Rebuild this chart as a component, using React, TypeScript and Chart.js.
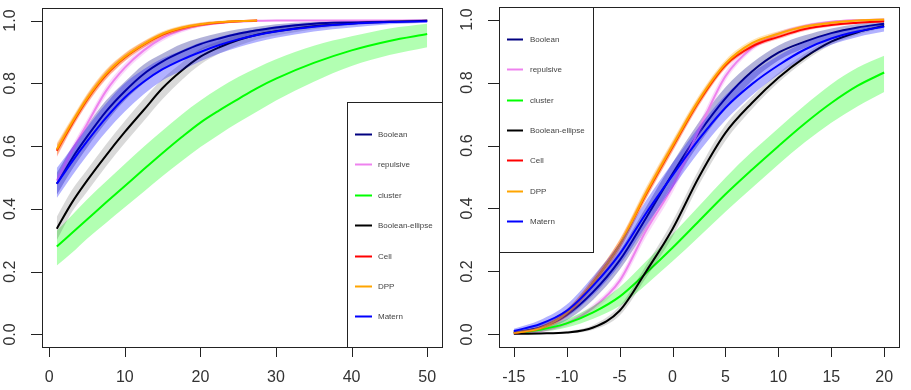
import React, { useEffect, useRef } from "react";
import { Chart, registerables } from "chart.js";
Chart.register(...registerables);

const seriesNames = ["Boolean", "repulsive", "cluster", "Boolean-ellipse", "Cell", "DPP", "Matern"];
const seriesColors = ["#000080", "#EE82EE", "#00FF00", "#000000", "#FF0000", "#FFA500", "#0000FF"];
const bandColors = [
  "rgba(0,0,128,0.3)",
  "rgba(238,130,238,0.3)",
  "rgba(0,255,0,0.3)",
  "rgba(0,0,0,0.15)",
  "rgba(255,0,0,0.3)",
  "rgba(255,165,0,0.3)",
  "rgba(0,0,255,0.3)",
];

const leftXTicks = [0, 10, 20, 30, 40, 50];
const rightXTicks = [-15, -10, -5, 0, 5, 10, 15, 20];
const yTicks = [0, 0.2, 0.4, 0.6, 0.8, 1.0];

// ---------- left panel ----------
const leftX = [1, 3, 5, 7.5, 10, 12.5, 15, 17.5, 20, 22.5, 25, 27.5, 30, 35, 40, 45, 50];

const leftBoolean = [0.48, 0.56, 0.63, 0.71, 0.775, 0.83, 0.87, 0.9, 0.925, 0.943, 0.958, 0.969, 0.978, 0.99, 0.995, 0.998, 1.0];
const leftBooleanLo = [0.445, 0.525, 0.595, 0.675, 0.745, 0.8, 0.845, 0.875, 0.905, 0.925, 0.94, 0.955, 0.965, 0.98, 0.99, 0.995, 0.998];
const leftBooleanHi = [0.515, 0.595, 0.665, 0.745, 0.805, 0.86, 0.895, 0.925, 0.945, 0.96, 0.972, 0.98, 0.988, 0.996, 0.999, 1.0, 1.0];

const leftRepulsive = [0.49, 0.585, 0.67, 0.775, 0.85, 0.905, 0.945, 0.97, 0.985, 0.992, 0.997, 0.999, 1.0, 1.0, 1.0, 1.0, 1.0];
const leftRepulsiveLo = [0.475, 0.57, 0.655, 0.76, 0.837, 0.893, 0.935, 0.962, 0.979, 0.988, 0.994, 0.997, 0.999, 1.0, 1.0, 1.0, 1.0];
const leftRepulsiveHi = [0.505, 0.6, 0.685, 0.79, 0.863, 0.917, 0.955, 0.978, 0.991, 0.996, 1.0, 1.0, 1.0, 1.0, 1.0, 1.0, 1.0];

const leftCluster = [0.28, 0.323, 0.366, 0.42, 0.473, 0.526, 0.578, 0.628, 0.675, 0.714, 0.75, 0.785, 0.815, 0.865, 0.905, 0.935, 0.957];
const leftClusterLo = [0.22, 0.26, 0.305, 0.355, 0.405, 0.455, 0.505, 0.552, 0.597, 0.637, 0.675, 0.71, 0.745, 0.805, 0.855, 0.89, 0.915];
const leftClusterHi = [0.33, 0.38, 0.43, 0.487, 0.543, 0.598, 0.65, 0.7, 0.745, 0.785, 0.82, 0.85, 0.877, 0.92, 0.95, 0.975, 0.99];

const leftEllipse = [0.337, 0.42, 0.49, 0.57, 0.645, 0.715, 0.785, 0.84, 0.885, 0.915, 0.938, 0.955, 0.966, 0.982, 0.991, 0.996, 0.999];
const leftEllipseLo = [0.3, 0.39, 0.455, 0.535, 0.61, 0.68, 0.75, 0.81, 0.86, 0.895, 0.92, 0.94, 0.952, 0.972, 0.985, 0.993, 0.997];
const leftEllipseHi = [0.375, 0.46, 0.525, 0.605, 0.68, 0.75, 0.815, 0.865, 0.91, 0.935, 0.955, 0.968, 0.978, 0.99, 0.996, 1.0, 1.0];

const leftCell = [0.585, 0.67, 0.748, 0.826, 0.882, 0.923, 0.955, 0.975, 0.987, 0.994, 0.998, 1.0, null, null, null, null, null];
const leftCellLo = [0.565, 0.655, 0.733, 0.812, 0.87, 0.913, 0.947, 0.968, 0.981, 0.99, 0.995, 0.998, null, null, null, null, null];
const leftCellHi = [0.605, 0.685, 0.763, 0.84, 0.894, 0.933, 0.963, 0.982, 0.993, 0.998, 1.0, 1.0, null, null, null, null, null];

const leftDPP = [0.59, 0.675, 0.752, 0.83, 0.885, 0.925, 0.958, 0.977, 0.988, 0.995, 0.998, 1.0, null, null, null, null, null];
const leftDPPLo = [0.57, 0.66, 0.737, 0.816, 0.873, 0.915, 0.95, 0.97, 0.982, 0.99, 0.995, 0.998, null, null, null, null, null];
const leftDPPHi = [0.61, 0.69, 0.767, 0.844, 0.897, 0.935, 0.966, 0.984, 0.994, 0.999, 1.0, 1.0, null, null, null, null, null];

const leftMatern = [0.48, 0.55, 0.615, 0.69, 0.755, 0.805, 0.845, 0.875, 0.9, 0.922, 0.94, 0.954, 0.965, 0.98, 0.99, 0.995, 0.998];
const leftMaternLo = [0.435, 0.505, 0.57, 0.645, 0.71, 0.765, 0.81, 0.84, 0.87, 0.895, 0.915, 0.932, 0.945, 0.965, 0.978, 0.988, 0.993];
const leftMaternHi = [0.53, 0.595, 0.66, 0.735, 0.8, 0.845, 0.88, 0.905, 0.93, 0.948, 0.962, 0.972, 0.982, 0.993, 0.998, 1.0, 1.0];

// ---------- right panel ----------
const rightX = [-15, -12.5, -10, -7.5, -5, -2.5, 0, 2.5, 5, 7.5, 10, 12.5, 15, 17.5, 20];

const rightBoolean = [0.006, 0.022, 0.062, 0.135, 0.235, 0.37, 0.51, 0.64, 0.75, 0.835, 0.895, 0.93, 0.957, 0.975, 0.987];
const rightBooleanLo = [0.002, 0.012, 0.045, 0.11, 0.205, 0.335, 0.475, 0.605, 0.715, 0.805, 0.87, 0.91, 0.94, 0.962, 0.977];
const rightBooleanHi = [0.012, 0.032, 0.08, 0.16, 0.265, 0.405, 0.545, 0.675, 0.785, 0.862, 0.918, 0.95, 0.972, 0.986, 0.995];

const rightRepulsive = [0.003, 0.01, 0.035, 0.085, 0.17, 0.33, 0.47, 0.65, 0.82, 0.91, 0.955, 0.98, 0.993, 0.998, 1.0];
const rightRepulsiveLo = [0.001, 0.006, 0.027, 0.074, 0.155, 0.31, 0.45, 0.63, 0.805, 0.9, 0.948, 0.975, 0.99, 0.996, 0.999];
const rightRepulsiveHi = [0.006, 0.015, 0.043, 0.096, 0.185, 0.35, 0.49, 0.67, 0.835, 0.92, 0.962, 0.985, 0.996, 1.0, 1.0];

const rightCluster = [0.005, 0.015, 0.035, 0.07, 0.12, 0.195, 0.275, 0.36, 0.445, 0.523, 0.598, 0.67, 0.735, 0.79, 0.832];
const rightClusterLo = [0.002, 0.008, 0.022, 0.05, 0.09, 0.158, 0.232, 0.31, 0.39, 0.465, 0.54, 0.61, 0.672, 0.725, 0.77];
const rightClusterHi = [0.009, 0.022, 0.048, 0.09, 0.15, 0.232, 0.318, 0.408, 0.498, 0.58, 0.655, 0.728, 0.795, 0.848, 0.885];

const rightEllipse = [0.002, 0.003, 0.006, 0.022, 0.075, 0.2, 0.335, 0.5, 0.64, 0.735, 0.815, 0.88, 0.93, 0.96, 0.98];
const rightEllipseLo = [0.001, 0.001, 0.003, 0.015, 0.06, 0.18, 0.31, 0.475, 0.615, 0.715, 0.8, 0.868, 0.92, 0.952, 0.975];
const rightEllipseHi = [0.003, 0.005, 0.01, 0.03, 0.09, 0.22, 0.36, 0.525, 0.665, 0.755, 0.83, 0.892, 0.94, 0.968, 0.985];

const rightCell = [0.005, 0.02, 0.068, 0.165, 0.285, 0.445, 0.595, 0.74, 0.855, 0.915, 0.945, 0.97, 0.983, 0.99, 0.995];
const rightCellLo = [0.003, 0.015, 0.058, 0.152, 0.27, 0.43, 0.58, 0.727, 0.845, 0.907, 0.938, 0.964, 0.978, 0.986, 0.992];
const rightCellHi = [0.008, 0.026, 0.078, 0.178, 0.3, 0.46, 0.61, 0.753, 0.865, 0.923, 0.952, 0.976, 0.988, 0.994, 0.998];

const rightDPP = [0.005, 0.02, 0.068, 0.165, 0.285, 0.45, 0.6, 0.745, 0.86, 0.925, 0.955, 0.978, 0.99, 0.997, 1.0];
const rightDPPLo = [0.003, 0.014, 0.056, 0.15, 0.268, 0.432, 0.583, 0.73, 0.848, 0.916, 0.947, 0.972, 0.985, 0.993, 0.998];
const rightDPPHi = [0.008, 0.026, 0.08, 0.18, 0.302, 0.468, 0.617, 0.76, 0.872, 0.934, 0.963, 0.984, 0.995, 1.0, 1.0];

const rightMatern = [0.011, 0.033, 0.075, 0.155, 0.255, 0.385, 0.505, 0.62, 0.72, 0.795, 0.855, 0.905, 0.94, 0.962, 0.978];
const rightMaternLo = [0.005, 0.02, 0.055, 0.125, 0.22, 0.345, 0.465, 0.58, 0.68, 0.76, 0.825, 0.88, 0.92, 0.945, 0.962];
const rightMaternHi = [0.018, 0.046, 0.095, 0.185, 0.29, 0.425, 0.545, 0.66, 0.76, 0.83, 0.885, 0.928, 0.958, 0.976, 0.99];

const leftSeries = [
  [leftBoolean, leftBooleanLo, leftBooleanHi],
  [leftRepulsive, leftRepulsiveLo, leftRepulsiveHi],
  [leftCluster, leftClusterLo, leftClusterHi],
  [leftEllipse, leftEllipseLo, leftEllipseHi],
  [leftCell, leftCellLo, leftCellHi],
  [leftDPP, leftDPPLo, leftDPPHi],
  [leftMatern, leftMaternLo, leftMaternHi],
];
const rightSeries = [
  [rightBoolean, rightBooleanLo, rightBooleanHi],
  [rightRepulsive, rightRepulsiveLo, rightRepulsiveHi],
  [rightCluster, rightClusterLo, rightClusterHi],
  [rightEllipse, rightEllipseLo, rightEllipseHi],
  [rightCell, rightCellLo, rightCellHi],
  [rightDPP, rightDPPLo, rightDPPHi],
  [rightMatern, rightMaternLo, rightMaternHi],
];

const FONT = "'Liberation Sans', Arial, sans-serif";

function toPoints(xs: number[], ys: (number | null)[]) {
  return xs.map((x, i) => ({ x, y: ys[i] }));
}

function buildDatasets(xs: number[], series: (number | null)[][][]) {
  const ds: any[] = [];
  let k = 0;
  series.forEach((s, i) => {
    const [mid, lo, hi] = s;
    const base = { pointRadius: 0, cubicInterpolationMode: "monotone", spanGaps: false };
    ds.push({ ...base, data: toPoints(xs, lo), borderWidth: 0, borderColor: "rgba(0,0,0,0)", fill: false, order: 1000 - k++ });
    ds.push({ ...base, data: toPoints(xs, hi), borderWidth: 0, borderColor: "rgba(0,0,0,0)", backgroundColor: bandColors[i], fill: "-1", order: 1000 - k++ });
    ds.push({ ...base, label: seriesNames[i], data: toPoints(xs, mid), borderWidth: 2, borderColor: seriesColors[i], fill: false, order: 1000 - k++ });
  });
  return ds;
}

const rAxesPlugin = {
  id: "rAxes",
  afterDraw(chart: any, _args: any, opts: any) {
    const { ctx, chartArea: a, scales } = chart;
    const xs = scales.x;
    const ys = scales.y;
    ctx.save();
    ctx.strokeStyle = "#222";
    ctx.lineWidth = 1;
    ctx.strokeRect(Math.round(a.left) + 0.5, Math.round(a.top) + 0.5, Math.round(a.right - a.left), Math.round(a.bottom - a.top));
    ctx.fillStyle = "#333";
    ctx.font = "16px " + FONT;
    ctx.textAlign = "center";
    ctx.textBaseline = "middle";
    const xt: number[] = opts.xTicks;
    ctx.beginPath();
    const x0 = Math.round(xs.getPixelForValue(xt[0])) + 0.5;
    const x1 = Math.round(xs.getPixelForValue(xt[xt.length - 1])) + 0.5;
    ctx.moveTo(x0, Math.round(a.bottom) + 0.5);
    ctx.lineTo(x1, Math.round(a.bottom) + 0.5);
    xt.forEach((v) => {
      const p = Math.round(xs.getPixelForValue(v)) + 0.5;
      ctx.moveTo(p, a.bottom);
      ctx.lineTo(p, a.bottom + 10);
    });
    const y0 = Math.round(ys.getPixelForValue(yTicks[0])) + 0.5;
    const y1 = Math.round(ys.getPixelForValue(yTicks[yTicks.length - 1])) + 0.5;
    ctx.moveTo(Math.round(a.left) + 0.5, y0);
    ctx.lineTo(Math.round(a.left) + 0.5, y1);
    yTicks.forEach((v) => {
      const p = Math.round(ys.getPixelForValue(v)) + 0.5;
      ctx.moveTo(a.left - 11, p);
      ctx.lineTo(a.left, p);
    });
    ctx.stroke();
    xt.forEach((v) => {
      ctx.fillText(String(v), xs.getPixelForValue(v), a.bottom + 31);
    });
    yTicks.forEach((v) => {
      ctx.save();
      ctx.translate(a.left - 31, ys.getPixelForValue(v));
      ctx.rotate(-Math.PI / 2);
      ctx.fillText(v.toFixed(1), 0, 0);
      ctx.restore();
    });
    // legend
    const L = opts.legend;
    ctx.fillStyle = "#fff";
    ctx.fillRect(Math.round(L.left) + 1, Math.round(L.top) + 1, Math.round(L.right - L.left) - 1, Math.round(L.bottom - L.top) - 1);
    ctx.strokeStyle = "#222";
    ctx.lineWidth = 1;
    ctx.strokeRect(Math.round(L.left) + 0.5, Math.round(L.top) + 0.5, Math.round(L.right - L.left), Math.round(L.bottom - L.top));
    ctx.font = "8px " + FONT;
    ctx.textAlign = "left";
    seriesNames.forEach((name, i) => {
      const y = Math.round(L.first + L.step * i) + 0.5;
      ctx.strokeStyle = seriesColors[i];
      ctx.lineWidth = 2;
      ctx.beginPath();
      ctx.moveTo(L.lineX0, y);
      ctx.lineTo(L.lineX1, y);
      ctx.stroke();
      ctx.fillStyle = "#444";
      ctx.fillText(name, L.textX, y);
    });
    ctx.restore();
  },
};

function Panel(props: { xs: number[]; series: any; xMin: number; xMax: number; xTicks: number[]; padding: any; legend: any; width: number; left: number }) {
  const ref = useRef<HTMLCanvasElement>(null);
  useEffect(() => {
    if (!ref.current) return;
    const chart = new Chart(ref.current, {
      type: "line",
      data: { datasets: buildDatasets(props.xs, props.series) },
      plugins: [rAxesPlugin],
      options: {
        animation: false,
        responsive: false,
        layout: { padding: props.padding },
        scales: {
          x: { type: "linear", min: props.xMin, max: props.xMax, display: false },
          y: { type: "linear", min: -0.04, max: 1.04, display: false },
        },
        plugins: {
          legend: { display: false },
          tooltip: { enabled: false },
          rAxes: { xTicks: props.xTicks, legend: props.legend },
        } as any,
      },
    } as any);
    return () => chart.destroy();
  }, []);
  return (
    <canvas
      ref={ref}
      width={props.width}
      height={390}
      style={{ position: "absolute", left: props.left, top: 0, width: props.width, height: 390 }}
    />
  );
}

export default function App() {
  return (
    <div style={{ position: "fixed", left: 0, top: 0, width: 911, height: 390, background: "#fff" }}>
      <Panel
        xs={leftX}
        series={leftSeries}
        xMin={-0.96}
        xMax={51.96}
        xTicks={leftXTicks}
        width={456}
        left={0}
        padding={{ left: 42, right: 14, top: 8, bottom: 43 }}
        legend={{ left: 347, top: 102, right: 442, bottom: 347, first: 134, step: 30.4, lineX0: 355, lineX1: 372, textX: 378 }}
      />
      <Panel
        xs={rightX}
        series={rightSeries}
        xMin={-16.4}
        xMax={21.4}
        xTicks={rightXTicks}
        width={455}
        left={456}
        padding={{ left: 43, right: 12, top: 7, bottom: 43 }}
        legend={{ left: 43, top: 7, right: 137, bottom: 252, first: 39, step: 30.35, lineX0: 51, lineX1: 67, textX: 74 }}
      />
    </div>
  );
}
